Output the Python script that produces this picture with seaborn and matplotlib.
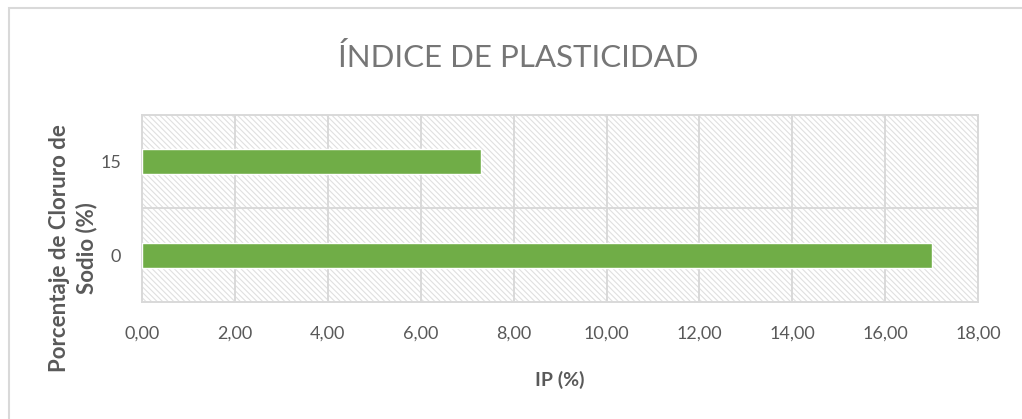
import matplotlib
matplotlib.use("Agg")
import matplotlib.pyplot as plt
from matplotlib.patches import Rectangle
from matplotlib.ticker import FuncFormatter
import pandas as pd
import seaborn as sns

# Data
categories = ["15", "0"]
ip_values = [7.3, 17.0]
x_ticks = [0, 2, 4, 6, 8, 10, 12, 14, 16, 18]

title = "ÍNDICE DE PLASTICIDAD"
x_label = "IP (%)"
y_label = "Porcentaje de Cloruro de\nSodio (%)"

bar_color = "#70ad47"
grid_color = "#d9d9d9"
text_color = "#595959"

sns.set_theme(style="white")
plt.rcParams["font.family"] = ["Lato", "DejaVu Sans"]
plt.rcParams["hatch.linewidth"] = 0.8
plt.rcParams["hatch.color"] = "#e0e0e0"

df = pd.DataFrame({"cat": categories, "ip": ip_values})

fig = plt.figure(figsize=(10.22, 4.19), dpi=100)
ax = fig.add_axes([0.139, 0.279, 0.818, 0.447])

# Hatched plot-area background
ax.add_patch(Rectangle((0, 0), 1, 1, transform=ax.transAxes, facecolor="white",
                       edgecolor="#e0e0e0", hatch="\\" * 6, linewidth=0, zorder=0))

sns.barplot(data=df, x="ip", y="cat", order=categories, orient="h",
            color=bar_color, width=0.27, saturation=1, ax=ax, zorder=3)

ax.set_xlim(0, 18)
ax.set_ylim(1.5, -0.5)
ax.set_xticks(x_ticks)
ax.xaxis.set_major_formatter(FuncFormatter(lambda v, p: f"{v:.2f}".replace(".", ",")))

# Gridlines: vertical at ticks, horizontal between categories
for xv in x_ticks:
    ax.axvline(xv, color=grid_color, linewidth=1.4, zorder=1)
ax.axhline(0.5, color=grid_color, linewidth=1.4, zorder=1)

for s in ax.spines.values():
    s.set_color(grid_color)
    s.set_linewidth(1.4)

ax.tick_params(axis="x", length=0, labelsize=13, labelcolor=text_color, pad=17)
ax.tick_params(axis="y", length=0, labelsize=13, labelcolor=text_color, pad=15)

ax.set_xlabel(x_label, fontsize=14, fontweight="bold", color=text_color, labelpad=21)
ax.set_ylabel(y_label, fontsize=16, fontweight="bold", color=text_color,
              linespacing=1.28, multialignment="center")
ax.yaxis.set_label_coords(-0.054, 0.29)

fig.text(0.507, 0.862, title, ha="center", va="center", fontsize=22.5,
         fontweight="normal", color="#767676")

# Outer chart frame
fig.patches.append(Rectangle((9 / 1022, -0.1), 1.2, 1.1 - 8 / 419,
                             transform=fig.transFigure, fill=False,
                             edgecolor="#d9d9d9", linewidth=1.5))

fig.savefig("out.png", dpi=100)
